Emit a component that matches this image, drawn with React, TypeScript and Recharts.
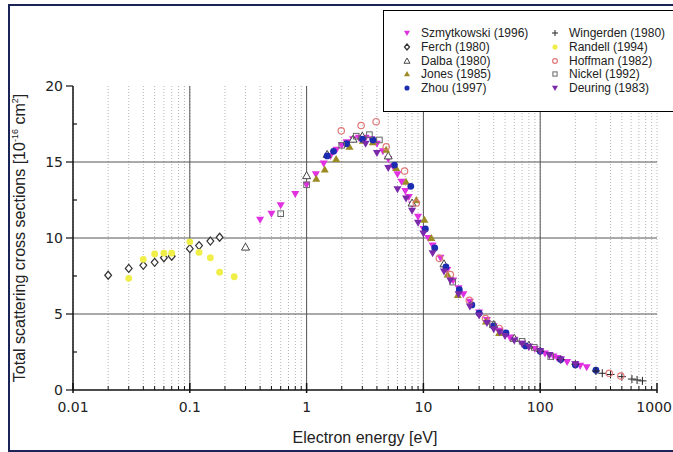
import React from 'react';
import { ScatterChart, Scatter, XAxis, YAxis, CartesianGrid, ReferenceLine, Legend } from 'recharts';

type Pt = [number, number];

// axis ticks
const xMajorTicks = [0.01, 0.1, 1, 10, 100, 1000];
const xTickLabels = ['0.01', '0.1', '1', '10', '100', '1000'];
const minorSteps = [2, 3, 4, 5, 6, 7, 8, 9];
const xMinorTicks = xMajorTicks.slice(0, -1).flatMap((d) => minorSteps.map((m) => +(d * m).toPrecision(3)));
const xAllTicks = [...xMajorTicks, ...xMinorTicks].sort((a, b) => a - b);
const yMajorTicks = [0, 5, 10, 15, 20];
const yAllTicks = [0, 2.5, 5, 7.5, 10, 12.5, 15, 17.5, 20];
const yGridLines = [5, 10, 15];

// measured data: [energy eV, cross section 1e-16 cm2]
const szmytkowski: Pt[] = [
  [0.4, 11.2], [0.5, 11.6], [0.6, 12.15], [0.8, 12.9], [1.0, 13.5], [1.2, 14.2], [1.4, 14.9], [1.6, 15.4],
  [1.8, 15.8], [2.0, 16.1], [2.2, 16.3], [2.5, 16.5], [2.8, 16.6], [3.2, 16.6], [3.6, 16.5], [4.0, 16.2],
  [4.5, 15.7], [5.0, 15.2], [5.5, 14.7], [6.0, 14.2], [6.5, 13.7], [7.0, 13.1], [7.5, 12.7], [8.0, 12.2],
  [9.0, 11.4], [10, 10.6], [11, 10.0], [12, 9.5], [14, 8.7], [16, 7.9], [18, 7.2], [20, 6.7], [22, 6.3],
  [25, 5.8], [30, 5.1], [35, 4.6], [40, 4.2], [45, 3.9], [50, 3.65], [55, 3.45], [60, 3.3], [70, 3.05],
  [80, 2.85], [90, 2.7], [100, 2.55], [110, 2.4], [120, 2.3], [130, 2.2], [140, 2.1], [150, 2.0],
  [170, 1.85], [200, 1.7], [220, 1.6], [250, 1.5],
];
const ferch: Pt[] = [
  [0.02, 7.55], [0.03, 8.0], [0.04, 8.2], [0.05, 8.4], [0.06, 8.7], [0.07, 8.8], [0.1, 9.3], [0.12, 9.5],
  [0.15, 9.8], [0.18, 10.05],
];
const dalba: Pt[] = [
  [0.3, 9.4], [1.0, 14.1], [1.5, 15.5], [2.5, 16.5], [3.0, 16.7], [5.0, 15.4], [8.0, 12.3], [15, 8.3],
  [40, 4.3], [60, 3.4], [80, 2.95],
];
const jones: Pt[] = [
  [1.21, 13.9], [1.43, 14.5], [1.79, 15.2], [2.33, 16.0], [3.03, 16.4], [3.69, 16.3], [4.8, 15.8],
  [5.84, 14.6], [7.1, 13.7], [8.7, 12.5], [10.2, 11.2], [11.7, 10.0], [16.1, 7.6], [19.7, 6.25],
  [34.3, 4.5], [44.5, 3.75],
];
const zhou: Pt[] = [
  [1.5, 15.4], [1.7, 15.7], [2.2, 16.2], [3.0, 16.5], [3.7, 16.45], [5.65, 14.8], [7.8, 13.4], [10.4, 10.6],
  [12.5, 9.35], [15.6, 8.1], [20.3, 6.6], [26, 5.6], [30, 5.05], [40, 4.2], [51, 3.75], [75, 2.9],
  [100, 2.55], [150, 2.0], [200, 1.65], [300, 1.3],
];
const wingerden: Pt[] = [
  [100, 2.55], [150, 2.0], [200, 1.7], [300, 1.25], [340, 1.1], [400, 1.02], [500, 0.88], [610, 0.72],
  [675, 0.66], [750, 0.6],
];
const randell: Pt[] = [
  [0.03, 7.35], [0.04, 8.6], [0.05, 8.95], [0.06, 9.0], [0.07, 9.0], [0.1, 9.75], [0.12, 9.05],
  [0.15, 8.7], [0.18, 7.75], [0.24, 7.45],
];
const hoffman: Pt[] = [
  [1.98, 17.05], [2.93, 17.4], [3.94, 17.65], [4.8, 16.0], [6.9, 14.4], [8.7, 12.3], [13.7, 8.66],
  [17, 7.6], [24.7, 5.9], [34, 4.7], [44.5, 4.05], [390, 1.1], [490, 0.92],
];
const nickel: Pt[] = [
  [0.6, 11.6], [1.0, 13.5], [2.0, 16.1], [2.66, 16.7], [3.45, 16.8], [4.2, 16.45], [17.8, 7.1],
  [39, 4.3], [70, 3.2], [89, 2.8], [123, 2.2],
];
const deuring: Pt[] = [
  [3.2, 16.2], [4.0, 15.6], [5.0, 14.6], [6.0, 13.2], [7.1, 12.6], [8.0, 11.8], [9.0, 11.0], [10, 10.3],
  [12, 9.0], [15, 7.8], [17, 7.2], [20, 6.3], [25, 5.5], [30, 4.9], [35, 4.4], [40, 4.0], [45, 3.8],
  [50, 3.55], [60, 3.25], [70, 3.05], [80, 2.85], [100, 2.55], [120, 2.3], [150, 2.0], [200, 1.7],
];

type Kind = 'downTri' | 'upTri' | 'openDiamond' | 'openTri' | 'dot' | 'plus' | 'openCircle' | 'openSquare';

const series = [
  { name: 'Szmytkowski (1996)', data: szmytkowski, kind: 'downTri' as Kind, color: '#e030e0' },
  { name: 'Ferch (1980)', data: ferch, kind: 'openDiamond' as Kind, color: '#333' },
  { name: 'Dalba (1980)', data: dalba, kind: 'openTri' as Kind, color: '#444' },
  { name: 'Jones (1985)', data: jones, kind: 'upTri' as Kind, color: '#9c8a22' },
  { name: 'Zhou (1997)', data: zhou, kind: 'dot' as Kind, color: '#1c2cb0' },
  { name: 'Wingerden (1980)', data: wingerden, kind: 'plus' as Kind, color: '#222' },
  { name: 'Randell (1994)', data: randell, kind: 'dot' as Kind, color: '#efef48' },
  { name: 'Hoffman (1982)', data: hoffman, kind: 'openCircle' as Kind, color: '#e07a7a' },
  { name: 'Nickel (1992)', data: nickel, kind: 'openSquare' as Kind, color: '#666' },
  { name: 'Deuring (1983)', data: deuring, kind: 'downTri' as Kind, color: '#7a2aa8' },
];

const Marker = ({ cx, cy, kind, color, r }: { cx: number; cy: number; kind: Kind; color: string; r: number }) => {
  if (cx == null || cy == null) return null;
  switch (kind) {
    case 'downTri':
      return <path d={`M${cx - r},${cy - r * 0.75} L${cx + r},${cy - r * 0.75} L${cx},${cy + r} Z`} fill={color} />;
    case 'upTri':
      return <path d={`M${cx - r},${cy + r * 0.75} L${cx + r},${cy + r * 0.75} L${cx},${cy - r} Z`} fill={color} />;
    case 'openTri':
      return <path d={`M${cx - r},${cy + r * 0.75} L${cx + r},${cy + r * 0.75} L${cx},${cy - r} Z`} fill="#fff" stroke={color} strokeWidth={1} />;
    case 'openDiamond':
      return <path d={`M${cx},${cy - r} L${cx + r * 0.85},${cy} L${cx},${cy + r} L${cx - r * 0.85},${cy} Z`} fill="#fff" stroke={color} strokeWidth={1.2} />;
    case 'dot':
      return <circle cx={cx} cy={cy} r={r * 0.85} fill={color} />;
    case 'plus':
      return <path d={`M${cx - r},${cy} H${cx + r} M${cx},${cy - r} V${cy + r}`} stroke={color} strokeWidth={1} />;
    case 'openCircle':
      return <circle cx={cx} cy={cy} r={r * 0.8} fill="none" stroke={color} strokeWidth={1.2} />;
    case 'openSquare':
      return <rect x={cx - r * 0.7} y={cy - r * 0.7} width={r * 1.4} height={r * 1.4} fill="none" stroke={color} strokeWidth={1} />;
  }
  return null;
};

const tickFont = { fontFamily: '"DejaVu Sans", sans-serif', fontSize: 14, fill: '#222' };

const BottomTick = (props: any) => {
  const { x, y, payload } = props;
  const i = xMajorTicks.indexOf(payload.value);
  const major = i >= 0;
  const last = i === xMajorTicks.length - 1;
  return (
    <g>
      <line x1={x} x2={x} y1={y + (major ? 3 : 0)} y2={y - (major ? 7 : 4)} stroke="#111" strokeWidth={major ? 1.5 : 1} />
      {major && (
        <text x={last ? x + 15 : x} y={y + 22} textAnchor={last ? 'end' : 'middle'} {...tickFont}>
          {xTickLabels[i]}
        </text>
      )}
    </g>
  );
};

const TopTick = (props: any) => {
  const { x, y, payload } = props;
  const major = xMajorTicks.includes(payload.value);
  return <line x1={x} x2={x} y1={y} y2={y + (major ? 8 : 5)} stroke="#111" strokeWidth={major ? 1.5 : 1} />;
};

const LeftTick = (props: any) => {
  const { x, y, payload } = props;
  const major = yMajorTicks.includes(payload.value);
  return (
    <g>
      {major ? (
        <line x1={x - 7} x2={x} y1={y} y2={y} stroke="#111" strokeWidth={1.2} />
      ) : (
        <line x1={x} x2={x + 4} y1={y} y2={y} stroke="#111" strokeWidth={1.2} />
      )}
      {major && (
        <text x={x - 10} y={y + 5} textAnchor="end" {...tickFont}>
          {payload.value}
        </text>
      )}
    </g>
  );
};

const RightTick = (props: any) => {
  const { x, y } = props;
  return <line x1={x} x2={x - 5} y1={y} y2={y} stroke="#111" strokeWidth={1.2} />;
};

const renderYLabel = (p: any) => {
  const vb = p.viewBox;
  const cx = vb.x + 12;
  const cy = vb.y + vb.height / 2;
  return (
    <text
      x={cx}
      y={cy}
      transform={`rotate(-90 ${cx} ${cy})`}
      textAnchor="middle"
      fontFamily='"Liberation Sans", Arial, sans-serif'
      fontSize={16}
      fill="#222"
    >
      Total scattering cross sections [10
      <tspan dy={-7} fontSize={9}>-16</tspan>
      <tspan dy={7}> cm</tspan>
      <tspan dy={-7} fontSize={9}>2</tspan>
      <tspan dy={7}>]</tspan>
    </text>
  );
};

const renderXLabel = (p: any) => {
  const vb = p.viewBox;
  return (
    <text
      x={vb.x + vb.width / 2}
      y={vb.y + 53}
      textAnchor="middle"
      fontFamily='"Liberation Sans", Arial, sans-serif'
      fontSize={16}
      fill="#222"
    >
      Electron energy [eV]
    </text>
  );
};

const renderLegend = () => (
  <div
    style={{
      width: 300,
      height: 100,
      border: '1px solid #000',
      background: '#fff',
      position: 'relative',
      fontFamily: '"Liberation Sans", Arial, sans-serif',
      fontSize: 12,
      color: '#222',
    }}
  >
    {series.map((s, i) => {
      const col = i < 5 ? 0 : 1;
      const row = i % 5;
      return (
        <div
          key={s.name}
          style={{ position: 'absolute', left: col ? 164 : 16, top: 15 + row * 13.8, height: 14, lineHeight: '14px', whiteSpace: 'nowrap' }}
        >
          <svg width={14} height={14} style={{ verticalAlign: 'top' }}>
            <Marker cx={7} cy={7} kind={s.kind} color={s.color} r={3} />
          </svg>
          <span style={{ marginLeft: 7 }}>{s.name}</span>
        </div>
      );
    })}
  </div>
);

export default function App() {
  return (
    <div style={{ position: 'fixed', left: 0, top: 0, width: 673, height: 452, overflow: 'hidden', background: '#fff' }}>
      <div
        style={{
          position: 'absolute',
          left: 8,
          top: 4,
          width: 700,
          height: 444,
          borderLeft: '2px solid #1b2457',
          borderTop: '2px solid #1b2457',
          borderBottom: '2px solid #1b2457',
        }}
      />
      <ScatterChart width={673} height={452} margin={{ top: 86, right: 16, bottom: 8, left: 13 }}>
        <CartesianGrid horizontal={false} stroke="#b4b4b4" strokeDasharray="1 2" />
        {xMajorTicks.slice(1, -1).map((v) => (
          <ReferenceLine key={'vx' + v} x={v} stroke="#555" strokeWidth={1} />
        ))}
        {yGridLines.map((v) => (
          <ReferenceLine key={'hy' + v} y={v} stroke="#555" strokeWidth={1} />
        ))}
        <XAxis
          dataKey="x"
          type="number"
          scale="log"
          domain={[0.01, 1000]}
          allowDataOverflow
          ticks={xAllTicks}
          interval={0}
          tickSize={0}
          tickMargin={0}
          tickLine={false}
          tick={BottomTick}
          height={54}
          axisLine={{ stroke: '#111', strokeWidth: 1.5 }}
          label={renderXLabel}
        />
        <XAxis
          xAxisId="top"
          orientation="top"
          type="number"
          scale="log"
          domain={[0.01, 1000]}
          allowDataOverflow
          ticks={xAllTicks}
          interval={0}
          tickSize={0}
          tickMargin={0}
          tickLine={false}
          tick={TopTick}
          height={0}
          axisLine={{ stroke: '#111', strokeWidth: 1.5 }}
        />
        <YAxis
          dataKey="y"
          type="number"
          domain={[0, 20]}
          allowDataOverflow
          ticks={yAllTicks}
          interval={0}
          tickSize={0}
          tickMargin={0}
          tickLine={false}
          tick={LeftTick}
          width={60}
          axisLine={{ stroke: '#111', strokeWidth: 1.5 }}
          label={renderYLabel}
        />
        <YAxis
          yAxisId="right"
          orientation="right"
          type="number"
          domain={[0, 20]}
          ticks={yAllTicks}
          interval={0}
          tickSize={0}
          tickMargin={0}
          tickLine={false}
          tick={RightTick}
          width={0}
          axisLine={{ stroke: '#111', strokeWidth: 1.5 }}
        />
        {series.map((s) => (
          <Scatter
            key={s.name}
            name={s.name}
            data={s.data.map(([x, y]) => ({ x, y }))}
            isAnimationActive={false}
            shape={(p: any) => <Marker cx={p.cx} cy={p.cy} kind={s.kind} color={s.color} r={4} />}
          />
        ))}
        <Legend
          layout="horizontal"
          verticalAlign="middle"
          align="center"
          content={renderLegend}
          wrapperStyle={{ position: 'absolute', left: 383, top: 10, width: 300, height: 102 }}
        />
      </ScatterChart>
    </div>
  );
}
